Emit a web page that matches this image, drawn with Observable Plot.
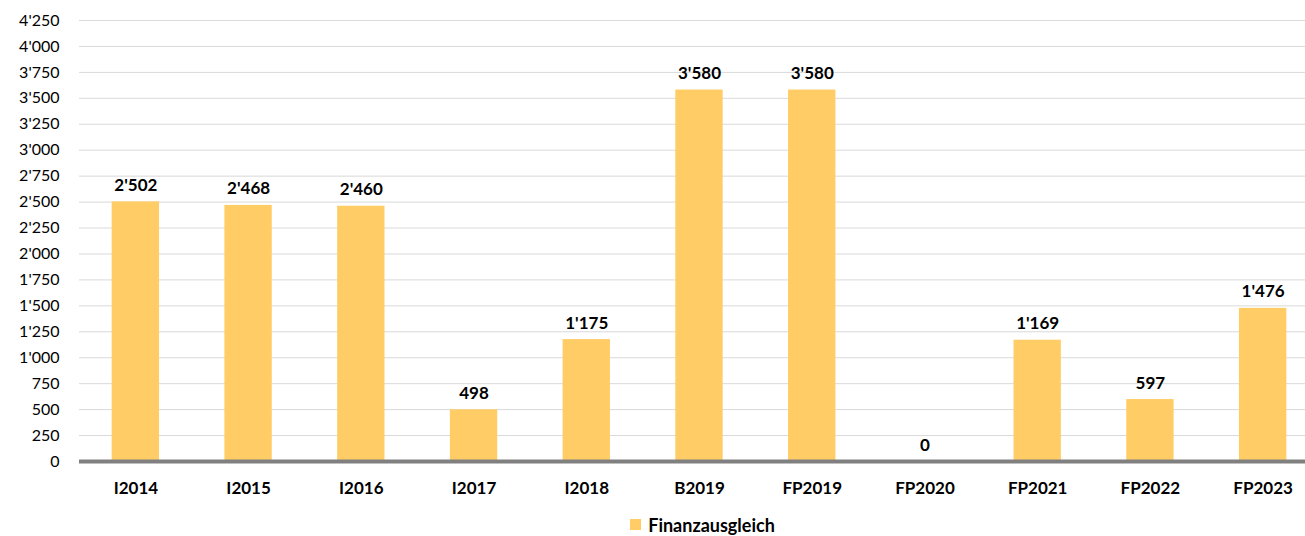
<!DOCTYPE html>
<html><head><meta charset="utf-8">
<script src="https://cdn.jsdelivr.net/npm/d3@7"></script>
<script src="https://cdn.jsdelivr.net/npm/@observablehq/plot@0.6"></script>
<style>
body{margin:0;background:#fff;font-family:Lato,"Open Sans",sans-serif;overflow:hidden;}
#chart svg{display:block;}
#legend{box-sizing:border-box;height:31px;display:flex;align-items:center;justify-content:center;font-weight:bold;font-size:18px;color:#000;padding-top:8px;padding-left:100px;}
#legend span.sw{display:inline-block;width:11px;height:11px;background:#FFCC66;margin-right:7px;}
</style></head>
<body><div id="chart"></div><div id="legend"><span class="sw"></span><span>Finanzausgleich</span></div>
<script>
const categories = ["I2014","I2015","I2016","I2017","I2018","B2019","FP2019","FP2020","FP2021","FP2022","FP2023"];
const values = [2502,2468,2460,498,1175,3580,3580,0,1169,597,1476];
const yTicks = d3.range(0, 4251, 250);
const seriesName = "Finanzausgleich";

const data = categories.map((c,i)=>({cat:c, value:values[i]}));
const fmt = v => d3.format(",")(v).replace(/,/g,"'");

const chart = Plot.plot({
  width:1305, height:505,
  marginLeft:79, marginRight:0, marginTop:20, marginBottom:44,
  style:{fontFamily:"Lato, 'Open Sans', sans-serif", background:"#fff", color:"#000"},
  x:{domain:categories, range:[79,1319], paddingInner:0.58, paddingOuter:0.29, round:false, label:null},
  y:{domain:[0,4250], ticks:yTicks, label:null},
  marks:[
    Plot.ruleY(yTicks.filter(d=>d>0), {stroke:"#d9d9d9", strokeWidth:1}),
    Plot.barY(data, {x:"cat", y:"value", fill:"#FFCC66"}),
    Plot.ruleY([0], {stroke:"#808080", strokeWidth:4}),
    Plot.text(data, {x:"cat", y:"value", text:d=>fmt(d.value), lineAnchor:"bottom", dy:-11, fontWeight:"bold", fontSize:17, fill:"#000"}),
    Plot.axisY({ticks:yTicks, tickFormat:fmt, tickSize:0, tickPadding:20, fontSize:16, label:null}),
    Plot.axisX({tickSize:0, tickPadding:20, fontSize:17, fontWeight:"bold", label:null})
  ]
});
document.getElementById("chart").appendChild(chart);
document.getElementById("legend").querySelector("span:last-child").textContent = seriesName;
</script></body></html>
